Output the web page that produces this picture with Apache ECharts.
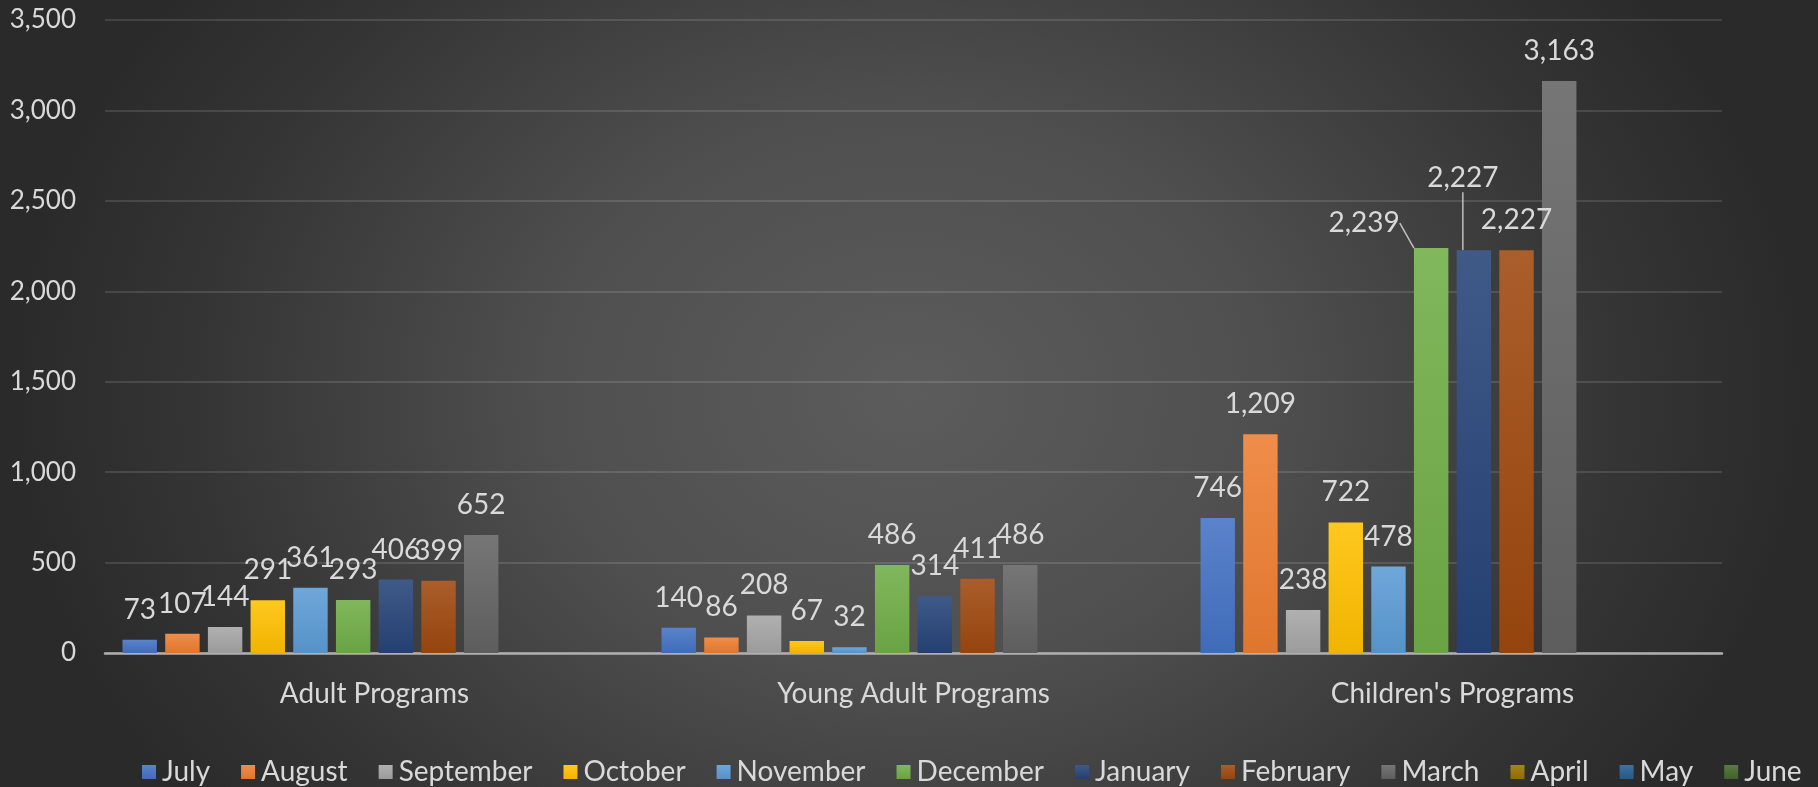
<!DOCTYPE html>
<html>
<head>
<meta charset="utf-8">
<script src="https://cdn.jsdelivr.net/npm/echarts@6/dist/echarts.min.js"></script>
<style>
html,body{margin:0;padding:0;width:1818px;height:787px;overflow:hidden;background:#2a2a2a;}
#c{width:1818px;height:787px;background:radial-gradient(ellipse 900px 700px at 50% 50%, #5c5c5c 0%, #4f4f4f 40%, #343434 80%, #2a2a2a 100%);}
</style>
</head>
<body>
<div id="c"></div>
<script>
// ---- data ----
const categories = ["Adult Programs", "Young Adult Programs", "Children's Programs"];
const months = ["July","August","September","October","November","December","January","February","March","April","May","June"];
const july      = [73, 140, 746];
const august    = [107, 86, 1209];
const september = [144, 208, 238];
const october   = [291, 67, 722];
const november  = [361, 32, 478];
const december  = [293, 486, 2239];
const january   = [406, 314, 2227];
const february  = [399, 411, 2227];
const march     = [652, 486, 3163];
const april     = [null, null, null];
const may       = [null, null, null];
const june      = [null, null, null];
const seriesValues = [july, august, september, october, november, december, january, february, march, april, may, june];
const yMin = 0, yMax = 3500, yStep = 500;

// ---- styling ----
const baseColors = ["#4472C4","#ED7D31","#A5A5A5","#FFC000","#5B9BD5","#70AD47","#264478","#9E480E","#636363","#997300","#255E91","#43682B"];
const textColor = "#d9d9d9";
const FONT = "Lato";
// label moves with leader lines: key "series,category" -> [dx, dy]
const labelMoves = { "5,2": [-67, 5], "6,2": [-11, -42] };

function shade(hex, f) {
  const n = parseInt(hex.slice(1), 16);
  let r = (n >> 16) & 255, g = (n >> 8) & 255, b = n & 255;
  const adj = c => f >= 0 ? Math.round(c + (255 - c) * f) : Math.round(c * (1 + f));
  return "rgb(" + adj(r) + "," + adj(g) + "," + adj(b) + ")";
}
function grad(hex) {
  return new echarts.graphic.LinearGradient(0, 0, 0, 1, [
    { offset: 0, color: shade(hex, 0.12) },
    { offset: 1, color: shade(hex, -0.06) }
  ]);
}
const fmt = v => (v == null ? "" : Number(v).toLocaleString("en-US"));

const series = months.map((m, si) => ({
  name: m,
  type: "bar",
  barGap: "24%",
  barCategoryGap: "6.5%",
  itemStyle: { color: grad(baseColors[si]) },
  label: {
    show: true, position: "top", distance: 16,
    color: textColor, fontFamily: FONT, fontSize: 28,
    formatter: p => fmt(p.value)
  },
  labelLine: { show: false },
  labelLayout: function (p) {
    const mv = labelMoves[si + "," + p.dataIndex];
    return mv ? { dx: mv[0], dy: mv[1] } : {};
  },
  data: seriesValues[si].map((v, ci) => {
    const item = { value: v };
    if (labelMoves[si + "," + ci]) {
      item.labelLine = { show: true, lineStyle: { color: "#bfbfbf", width: 1.5 } };
    }
    return item;
  })
}));

const chart = echarts.init(document.getElementById("c"), null, { renderer: "canvas" });
chart.setOption({
  backgroundColor: "transparent",
  animation: false,
  color: baseColors,
  textStyle: { fontFamily: FONT, color: textColor },
  grid: { left: 105, right: 96, top: 20, bottom: 134, containLabel: false },
  xAxis: {
    type: "category",
    data: categories,
    axisLine: { show: true, lineStyle: { color: "#b0b0b0", width: 2.5 } },
    axisTick: { show: false },
    axisLabel: { color: textColor, fontFamily: FONT, fontSize: 28, margin: 27 }
  },
  yAxis: {
    type: "value",
    min: yMin, max: yMax, interval: yStep,
    axisLine: { show: false },
    axisTick: { show: false },
    splitLine: { lineStyle: { color: "rgba(255,255,255,0.12)", width: 2 } },
    axisLabel: { color: textColor, fontFamily: FONT, fontSize: 26, margin: 29, formatter: v => fmt(v) }
  },
  legend: {
    data: months,
    left: 137, top: 753,
    icon: "rect", itemWidth: 14, itemHeight: 14, itemGap: 31,
    textStyle: { color: textColor, fontFamily: FONT, fontSize: 28, padding: [0, 0, 0, 1] }
  },
  series: series
});
</script>
</body>
</html>
